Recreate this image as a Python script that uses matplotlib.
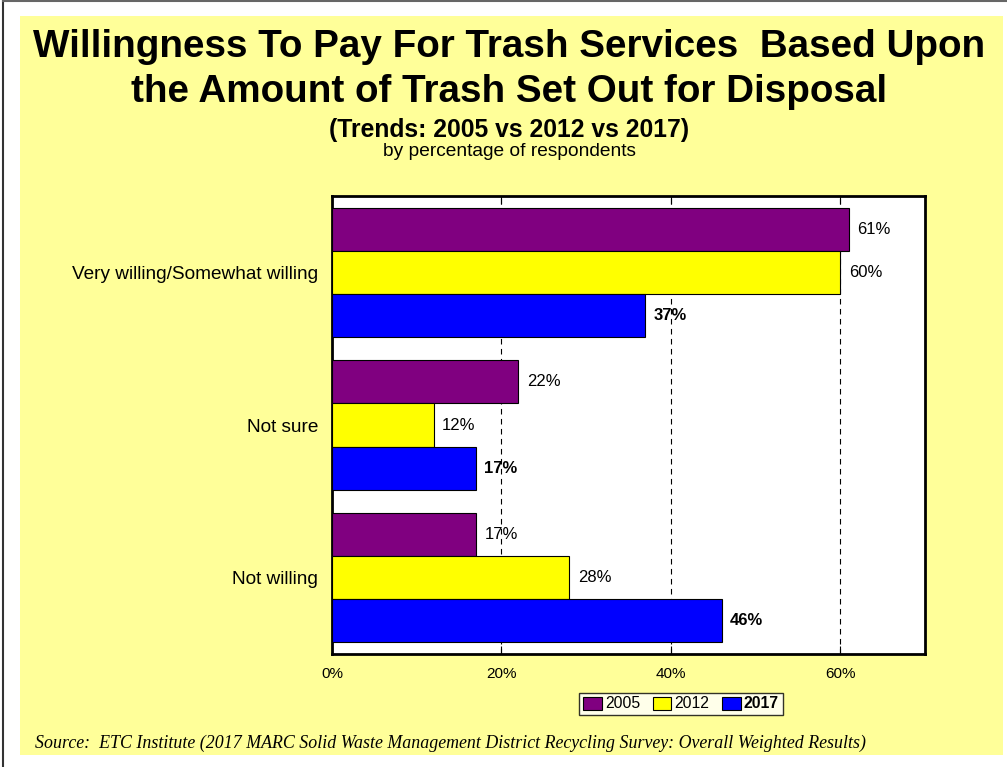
import matplotlib
matplotlib.use("Agg")
import matplotlib.pyplot as plt
from matplotlib.patches import Rectangle, Patch
from matplotlib.lines import Line2D
import numpy as np

categories = ["Very willing/Somewhat willing", "Not sure", "Not willing"]
years = ["2005", "2012", "2017"]
vals_2005 = [61, 22, 17]
vals_2012 = [60, 12, 28]
vals_2017 = [37, 17, 46]
colors = ["#800080", "#FFFF00", "#0000FF"]

plt.rcParams["font.family"] = ["Liberation Sans", "DejaVu Sans"]

W, H = 1007, 767
fig = plt.figure(figsize=(W / 100, H / 100), dpi=100, facecolor="white")

# yellow panel and page borders
fig.patches.append(Rectangle((20 / W, 1 - 755 / H), 983 / W, 739 / H,
                             transform=fig.transFigure, facecolor="#FFFF99",
                             edgecolor="none", zorder=-10))
fig.lines.append(Line2D([3 / W, 3 / W], [0, 1 - 1 / H], transform=fig.transFigure,
                        color="#333333", linewidth=1.5, zorder=-5))
fig.lines.append(Line2D([3 / W, 1], [1 - 1 / H, 1 - 1 / H], transform=fig.transFigure,
                        color="#666666", linewidth=1.5, zorder=-5))

cx = 509.5 / W
fig.text(cx, 1 - 47 / H, "Willingness To Pay For Trash Services  Based Upon",
         ha="center", va="center", fontsize=27.8, fontweight="bold")
fig.text(cx, 1 - 92 / H, "the Amount of Trash Set Out for Disposal",
         ha="center", va="center", fontsize=27.8, fontweight="bold")
fig.text(cx, 1 - 130 / H, "(Trends: 2005 vs 2012 vs 2017)",
         ha="center", va="center", fontsize=17.8, fontweight="bold")
fig.text(cx, 1 - 151 / H, "by percentage of respondents",
         ha="center", va="center", fontsize=13.8)

ax = fig.add_axes([332 / W, 1 - 654 / H, 593 / W, 458 / H])
ax.set_facecolor("white")

series = [vals_2005, vals_2012, vals_2017]
bh = 0.282
y = np.arange(len(categories))
for i, (vals, col) in enumerate(zip(series, colors)):
    pos = y + (i - 1) * bh
    ax.barh(pos, vals, height=bh, color=col, edgecolor="black", linewidth=0.8, zorder=3)
    for p, v in zip(pos, vals):
        ax.text(v + 1.0, p, f"{v}%", va="center", ha="left", fontsize=12,
                fontweight="bold" if i == 2 else "normal", zorder=4)

ax.set_xlim(0, 70)
ax.set_ylim(len(categories) - 0.5, -0.5)
ax.set_xticks([0, 20, 40, 60])
ax.set_xticklabels(["0%", "20%", "40%", "60%"], fontsize=11)
ax.set_yticks(y)
ax.set_yticklabels(categories, fontsize=13.7)
ax.tick_params(axis="y", length=0, pad=10)
ax.tick_params(axis="x", direction="in", top=True, length=6, pad=9)
ax.xaxis.grid(True, linestyle=(0, (5, 4)), color="black", linewidth=0.8, zorder=1)
for s in ax.spines.values():
    s.set_linewidth(2)

handles = [Patch(facecolor=c, edgecolor="black", linewidth=0.8) for c in colors]
leg = fig.legend(handles, years, loc="center", bbox_to_anchor=(681 / W, 1 - 704 / H),
                 ncol=3, frameon=True, fancybox=False, fontsize=11.3,
                 handlelength=1.2, handleheight=0.9, handletextpad=0.2,
                 columnspacing=0.8, borderpad=0.25, edgecolor="black")
leg.get_frame().set_linewidth(1)
leg.get_texts()[2].set_fontweight("bold")

fig.text(35 / W, 1 - 743 / H,
         "Source:  ETC Institute (2017 MARC Solid Waste Management District Recycling Survey: Overall Weighted Results)",
         ha="left", va="center", fontsize=12.85, style="italic",
         family=["Liberation Serif", "DejaVu Serif"])

fig.savefig("out.png", dpi=100, facecolor="white")
